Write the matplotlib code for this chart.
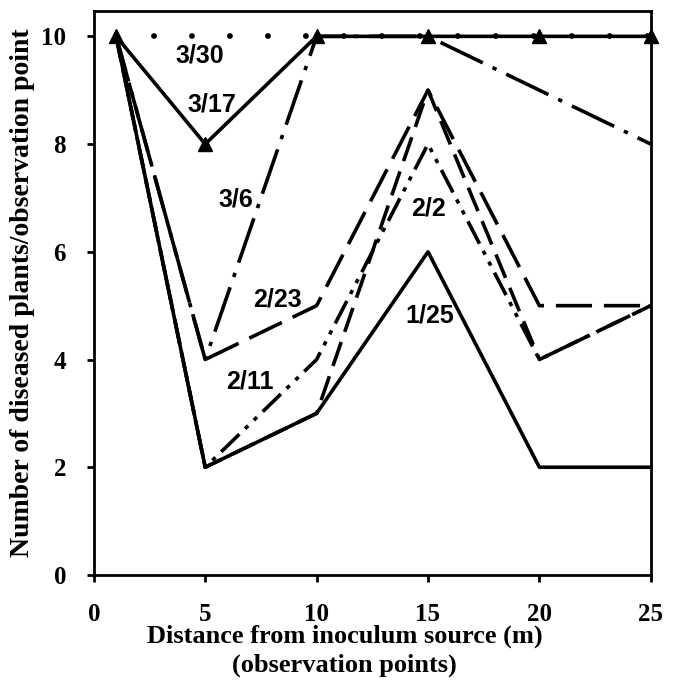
import matplotlib
matplotlib.use("Agg")
import matplotlib.pyplot as plt

# observation points (m from inoculum source)
distance_m = [1, 5, 10, 15, 20, 25]

# diseased plants per observation point, by survey date
d_0330 = [10, 10, 10, 10, 10, 10]
d_0317 = [10, 8, 10, 10, 10, 10]
d_0306 = [10, 4, 10, 10, 9, 8]
d_0223 = [10, 4, 5, 9, 5, 5]
d_0211 = [10, 2, 4, 8, 4, 5]
d_0202 = [10, 2, 3, 9, 4, 5]
d_0125 = [10, 2, 3, 6, 2, 2]

x_ticks = [0, 5, 10, 15, 20, 25]
y_ticks = [0, 2, 4, 6, 8, 10]

SERIF = ["Liberation Serif", "DejaVu Serif"]
SANS = ["Liberation Sans", "DejaVu Sans"]
LW = 2.6


def setup_matplotlib() -> None:
    plt.rcParams["font.family"] = SERIF
    plt.rcParams["font.weight"] = "bold"
    plt.rcParams["axes.linewidth"] = 2.0


def draw(ax) -> None:
    k = dict(color="black", lw=LW, clip_on=False)
    ax.plot(distance_m, d_0330, linestyle=(0, (0.01, 6.5)), dash_capstyle="round", lw=4.2, color="black", clip_on=False)
    ax.plot(distance_m, d_0317, linestyle="-", marker="^", markersize=9.5, **k)
    ax.plot(distance_m, d_0306, linestyle=(0, (13, 3, 1.2, 3)), **k)
    ax.plot(distance_m, d_0223, linestyle=(0, (10, 3.3)), **k)
    ax.plot(distance_m, d_0211, linestyle=(0, (7, 2.2, 1.2, 2.2, 1.2, 2.2)), **k)
    ax.plot(distance_m, d_0202, linestyle=(0, (7, 3)), **k)
    ax.plot(distance_m, d_0125, linestyle="-", **k)

    labels = [
        ("3/30", 4.76, 9.64),
        ("3/17", 5.3, 8.74),
        ("3/6", 6.37, 6.97),
        ("2/23", 8.26, 5.11),
        ("2/11", 7.0, 3.6),
        ("2/2", 15.04, 6.8),
        ("1/25", 15.08, 4.81),
    ]
    for txt, lx, ly in labels:
        ax.text(lx, ly, txt, family=SANS, fontsize=18, fontweight="bold", ha="center", va="center")


def run() -> None:
    setup_matplotlib()
    fig = plt.figure(figsize=(6.8, 6.81), dpi=100)
    ax = fig.add_axes([0.138, 0.1557, 0.819, 0.8281])
    draw(ax)

    ax.set_xlim(0, 25)
    ax.set_ylim(0, 10.47)
    ax.set_xticks(x_ticks)
    ax.set_yticks(y_ticks)
    ax.tick_params(direction="out", length=5, width=2.0, pad=15, labelsize=18)
    for lab in ax.get_xticklabels() + ax.get_yticklabels():
        lab.set_fontweight("bold")

    ax.set_xlabel("Distance from inoculum source (m)\n(observation points)",
                  fontsize=19, fontweight="bold", linespacing=1.3)
    ax.xaxis.set_label_coords(0.45, -0.088)
    ax.set_ylabel("Number of diseased plants/observation point", fontsize=20, fontweight="bold")
    ax.yaxis.set_label_coords(-0.105, 0.5)

    fig.savefig("out.png", dpi=100)
    plt.close(fig)


if __name__ == "__main__":
    run()
